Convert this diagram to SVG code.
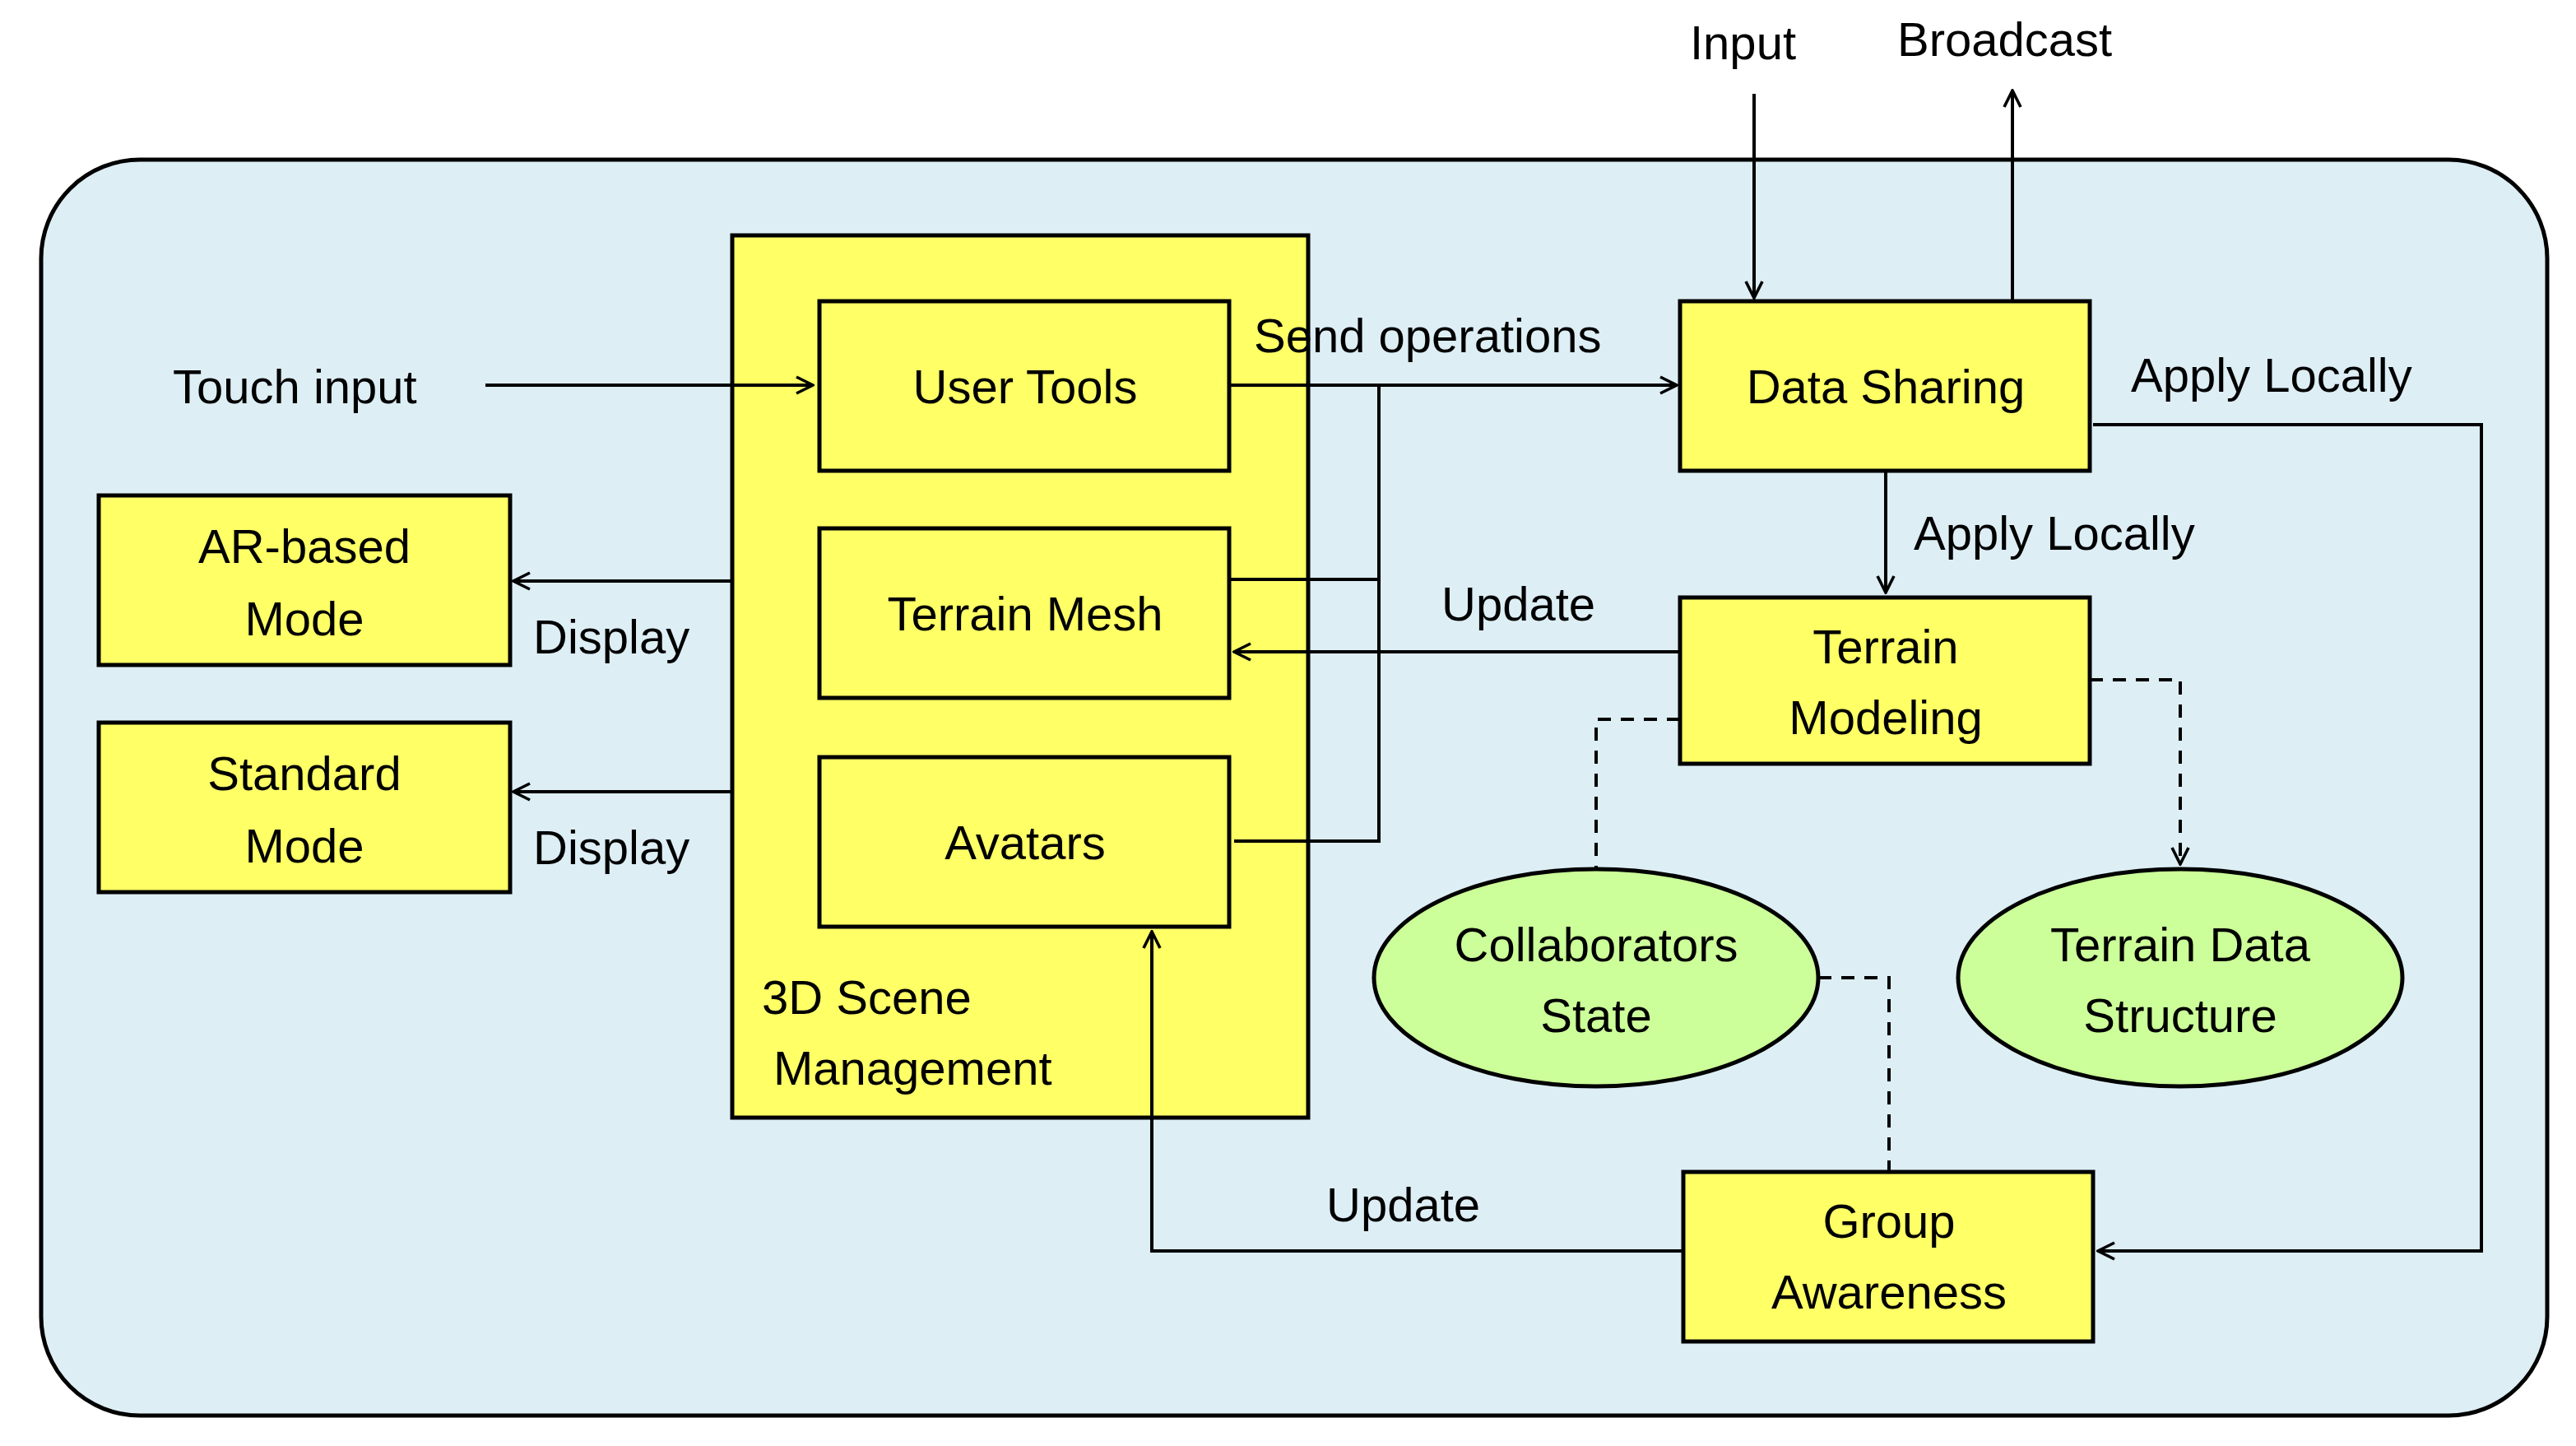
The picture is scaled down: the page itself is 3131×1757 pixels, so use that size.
<svg xmlns="http://www.w3.org/2000/svg" width="3131" height="1757" viewBox="0 0 3131 1757">
<defs>
<marker id="a" viewBox="0 0 12 12" refX="11" refY="6" markerWidth="12" markerHeight="12" markerUnits="userSpaceOnUse" orient="auto"><path d="M1,1 L11,6 L1,11" fill="none" stroke="#000" stroke-width="1.8"/></marker>
<style>
.b{fill:#FFFF66;stroke:#000;stroke-width:2.5}
.e{fill:#CCFF99;stroke:#000;stroke-width:2.5}
.c{fill:none;stroke:#000;stroke-width:2}
.d{fill:none;stroke:#000;stroke-width:2;stroke-dasharray:8,6}
text{font-family:"Liberation Sans",Arial,sans-serif;font-size:29px;fill:#000}
.m{text-anchor:middle}
</style>
</defs>
<rect width="3131" height="1757" fill="#fff"/>
<g transform="scale(2)">
<rect id="system" x="25" y="97" width="1523" height="763" rx="60" fill="#DDEEF5" stroke="#000" stroke-width="2.5"/>
<g id="scene"><rect class="b" x="445" y="143" width="350" height="536"/><text x="463" y="616">3D Scene</text><text x="470" y="659">Management</text></g>
<g id="usertools"><rect class="b" x="498" y="183" width="249" height="103"/><text class="m" x="623" y="245">User Tools</text></g>
<g id="terrainmesh"><rect class="b" x="498" y="321" width="249" height="103"/><text class="m" x="623" y="383">Terrain Mesh</text></g>
<g id="avatars"><rect class="b" x="498" y="460" width="249" height="103"/><text class="m" x="623" y="522">Avatars</text></g>
<g id="ar"><rect class="b" x="60" y="301" width="250" height="103"/><text class="m" x="185" y="342">AR-based</text><text class="m" x="185" y="386">Mode</text></g>
<g id="standard"><rect class="b" x="60" y="439" width="250" height="103"/><text class="m" x="185" y="480">Standard</text><text class="m" x="185" y="524">Mode</text></g>
<g id="datasharing"><rect class="b" x="1021" y="183" width="249" height="103"/><text class="m" x="1146" y="245">Data Sharing</text></g>
<g id="terrainmodeling"><rect class="b" x="1021" y="363" width="249" height="101"/><text class="m" x="1146" y="403">Terrain</text><text class="m" x="1146" y="446">Modeling</text></g>
<g id="group"><rect class="b" x="1023" y="712" width="249" height="103"/><text class="m" x="1148" y="752">Group</text><text class="m" x="1148" y="795">Awareness</text></g>
<g id="collab"><ellipse class="e" cx="970" cy="594" rx="135" ry="66"/><text class="m" x="970" y="584">Collaborators</text><text class="m" x="970" y="627">State</text></g>
<g id="tds"><ellipse class="e" cx="1325" cy="594" rx="135" ry="66"/><text class="m" x="1325" y="584">Terrain Data</text><text class="m" x="1325" y="627">Structure</text></g>
<g id="connectors">
<path class="c" d="M295,234 H494" marker-end="url(#a)"/>
<path class="c" d="M747,234 H1019" marker-end="url(#a)"/>
<path class="c" d="M838,234 V511 H750 M747,352 H838"/>
<path class="c" d="M1021,396 H750" marker-end="url(#a)"/>
<path class="c" d="M1146,286 V360" marker-end="url(#a)"/>
<path class="c" d="M1272,258 H1508 V760 H1275" marker-end="url(#a)"/>
<path class="c" d="M1066,57 V181" marker-end="url(#a)"/>
<path class="c" d="M1223,183 V55" marker-end="url(#a)"/>
<path class="c" d="M1023,760 H700 V566" marker-end="url(#a)"/>
<path class="c" d="M445,353 H312" marker-end="url(#a)"/>
<path class="c" d="M445,481 H312" marker-end="url(#a)"/>
<path class="d" d="M1021,437 H970 V528"/>
<path class="d" d="M1270,413 H1325 V525" marker-end="url(#a)"/>
<path class="d" d="M1105,594 H1148 V712"/>
</g>
<g id="labels">
<text x="105" y="245">Touch input</text>
<text x="762" y="214">Send operations</text>
<text x="876" y="377">Update</text>
<text x="1163" y="334">Apply Locally</text>
<text x="1295" y="238">Apply Locally</text>
<text x="1027" y="36">Input</text>
<text x="1153" y="34">Broadcast</text>
<text x="806" y="742">Update</text>
<text x="324" y="397">Display</text>
<text x="324" y="525">Display</text>
</g>
</g>
</svg>
